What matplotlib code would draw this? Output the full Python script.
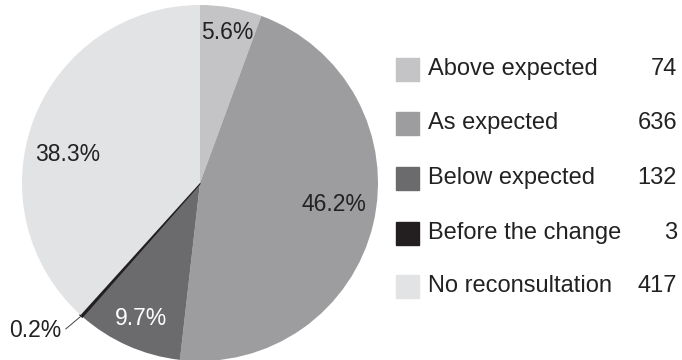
import numpy as np
import matplotlib.pyplot as plt

plt.rcParams['font.family'] = ['Liberation Sans', 'DejaVu Sans']

# datos
categorias = ['Above expected', 'As expected', 'Below expected', 'Before the change', 'No reconsultation']
porcentajes = [5.6, 46.2, 9.7, 0.2, 38.3]
cantidades = [74, 636, 132, 3, 417]
colores = ['#c4c4c6', '#9d9d9f', '#6b6b6d', '#231f20', '#e2e3e5']

fig = plt.figure(figsize=(6.82, 3.6), dpi=100)
ax = fig.add_axes([22 / 682, -1 / 360, 356 / 682, 356 / 360])

wedges, _ = ax.pie(porcentajes, colors=colores, startangle=90, counterclock=False,
                   radius=1.0, wedgeprops=dict(linewidth=0))
ax.set_xlim(-1, 1)
ax.set_ylim(-1, 1)
ax.set_aspect('equal')

# la porcion negra se ve un poco mas gruesa en el original
wedges[3].set_edgecolor(colores[3])
wedges[3].set_linewidth(1.6)

# ajustes de posicion de las etiquetas (distancia, giro en grados)
dist = [0.86, 0.76, 0.83, None, 0.76]
giro = [0, 4, 0.6, 0, 9]
color_txt = ['#222222', '#222222', 'white', '#222222', '#222222']

for i, w in enumerate(wedges):
    ang = (w.theta1 + w.theta2) / 2
    txt = f'{porcentajes[i]}%'
    if dist[i] is None:
        # porcion muy chica: etiqueta afuera con linea guia
        a = np.deg2rad(ang)
        x0, y0 = np.cos(a), np.sin(a)
        ax.annotate(txt, xy=(x0, y0), xytext=(x0 - 0.11, y0 - 0.08),
                    fontsize=16.5, color=color_txt[i], ha='right', va='center',
                    arrowprops=dict(arrowstyle='-', color='#444444', lw=0.7,
                                    shrinkA=1, shrinkB=0,
                                    connectionstyle='angle,angleA=0,angleB=40,rad=0'))
        continue
    a = np.deg2rad(ang + giro[i])
    ax.text(dist[i] * np.cos(a), dist[i] * np.sin(a), txt, fontsize=16.5,
            color=color_txt[i], ha='center', va='center')

# leyenda hecha a mano
y_filas = [69, 123, 178, 233, 286]
for i in range(len(categorias)):
    yf = 1 - y_filas[i] / 360
    fig.patches.append(plt.Rectangle((396 / 682, yf - 11.5 / 360), 23 / 682, 23 / 360,
                                     transform=fig.transFigure, color=colores[i]))
    fig.text(428 / 682, yf, categorias[i], fontsize=17, color='#222222',
             ha='left', va='center')
    fig.text(677 / 682, yf, str(cantidades[i]), fontsize=17, color='#222222',
             ha='right', va='center')

fig.savefig('out.png', dpi=100)
